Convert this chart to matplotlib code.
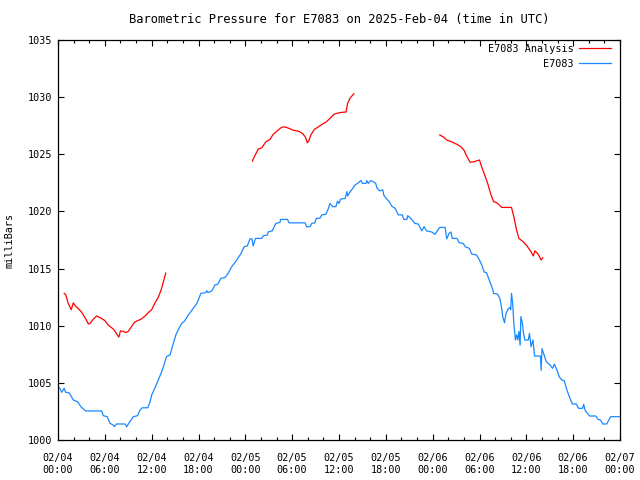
import matplotlib
matplotlib.use('Agg')
import matplotlib.pyplot as plt
import matplotlib.dates as mdates
from datetime import datetime, timedelta

# hours since 2025-02-04 00:00 UTC, pressure in mbar
obs_hours = [0.0, 0.26, 0.47, 0.8, 0.98, 1.4, 1.67, 1.96, 2.5, 2.95, 3.55, 5.6, 5.8, 6.3, 6.66,
             7.1, 7.2, 7.5, 8.6, 8.8, 9.2, 9.65, 10.2, 10.5, 10.8, 11.5, 11.8, 12.0, 12.4, 12.85,
             13.2, 13.5, 13.9, 14.35, 14.65, 15.1, 15.5, 15.85, 16.2, 16.7, 17.8, 18.3, 18.9,
             19.05, 19.2, 19.7, 20.1, 20.5, 20.85, 21.4, 21.8, 22.25, 22.9, 23.45, 23.85, 24.25,
             24.6, 24.85, 25.0, 25.3, 26.1, 26.3, 26.8, 26.95, 27.45, 27.9, 28.45, 28.5, 29.4,
             29.6, 31.65, 31.85, 32.3, 32.5, 32.9, 33.1, 33.55, 33.8, 34.3, 34.6, 34.85, 35.2,
             35.6, 35.8, 36.0, 36.2, 36.8, 37.0, 37.1, 37.3, 37.6, 38.05, 38.5, 38.8, 39.0, 39.45,
             39.55, 39.75, 40.05, 40.4, 40.7, 40.9, 41.25, 41.6, 41.75, 42.1, 42.45, 42.75, 43.2,
             43.6, 44.1, 44.3, 44.7, 44.8, 45.1, 45.4, 45.7, 46.15, 46.6, 46.9, 47.2, 47.9, 48.3,
             48.9, 49.6, 49.8, 50.1, 50.35, 50.5, 51.1, 51.4, 51.9, 52.2, 52.7, 53.0, 53.6, 54.0,
             54.3, 54.6, 54.9, 55.25, 55.65, 55.8, 56.3, 56.6, 56.85, 56.97, 57.2, 57.4, 57.7,
             57.9, 58.0, 58.1, 58.25, 58.4, 58.6, 58.75, 58.9, 59.05, 59.2, 59.3, 59.5, 59.6,
             59.8, 60.25, 60.4, 60.6, 60.85, 61.05, 61.8, 61.9, 62.0, 62.2, 62.55, 63.05, 63.35,
             63.6, 64.0, 64.2, 64.55, 64.85, 65.2, 65.5, 65.9, 66.4, 66.7, 67.2, 67.35, 67.55,
             68.1, 68.9, 69.2, 69.5, 69.8, 70.3, 70.8, 72.0]
obs_mbar = [1004.6, 1004.52, 1004.17, 1004.52, 1004.17, 1004.14, 1003.85, 1003.5, 1003.35,
            1002.9, 1002.54, 1002.54, 1002.13, 1002.04, 1001.46, 1001.3, 1001.16, 1001.4,
            1001.4, 1001.16, 1001.6, 1002.04, 1002.13, 1002.62, 1002.82, 1002.82, 1003.35,
            1003.94, 1004.52, 1005.25, 1005.83, 1006.4, 1007.3, 1007.44, 1008.17, 1009.2,
            1009.77, 1010.2, 1010.4, 1010.94, 1011.96, 1012.83, 1012.89, 1013.06, 1012.9,
            1013.04, 1013.56, 1013.65, 1014.14, 1014.22, 1014.58, 1015.16, 1015.75, 1016.33,
            1016.91, 1016.97, 1017.6, 1017.6, 1016.97, 1017.64, 1017.64, 1017.87, 1017.93,
            1018.22, 1018.3, 1018.95, 1019.04, 1019.3, 1019.3, 1019.0, 1019.0, 1018.66,
            1018.66, 1018.95, 1019.0, 1019.4, 1019.4, 1019.7, 1019.75, 1020.18, 1020.7,
            1020.42, 1020.42, 1020.9, 1020.7, 1021.08, 1021.14, 1021.73, 1021.35, 1021.6,
            1021.87, 1022.3, 1022.52, 1022.7, 1022.45, 1022.45, 1022.7, 1022.45, 1022.7,
            1022.6, 1022.45, 1022.0, 1021.8, 1021.9, 1021.4, 1021.1, 1020.85, 1020.47,
            1020.26, 1019.7, 1019.7, 1019.3, 1019.3, 1019.63, 1019.45, 1019.25, 1018.95,
            1018.9, 1018.3, 1018.67, 1018.3, 1018.2, 1018.0, 1018.6, 1018.6, 1017.6, 1018.07,
            1018.2, 1017.64, 1017.64, 1017.26, 1017.2, 1016.9, 1016.77, 1016.27, 1016.2,
            1015.75, 1015.3, 1014.7, 1014.63, 1014.0, 1013.27, 1012.83, 1012.77, 1012.4,
            1011.5, 1010.8, 1010.26, 1011.08, 1011.5, 1011.6, 1011.4, 1012.83, 1011.96,
            1010.2, 1008.75, 1009.2, 1008.75, 1009.5, 1008.3, 1010.8, 1010.2, 1009.5,
            1008.75, 1008.75, 1009.33, 1008.16, 1008.75, 1007.35, 1007.35, 1006.1, 1008.0,
            1007.6, 1006.85, 1006.56, 1006.27, 1006.64, 1005.98, 1005.54, 1005.25, 1005.2,
            1004.37, 1003.8, 1003.15, 1003.15, 1002.77, 1002.77, 1003.12, 1002.57, 1002.1,
            1002.1, 1001.8, 1001.75, 1001.4, 1001.4, 1002.04, 1002.04]

# analysis comes in three separate runs
ana1_hours = [0.8, 1.0, 1.3, 1.5, 1.7, 1.96, 2.26, 2.6, 3.0, 3.46, 3.9, 4.1, 4.5, 4.95, 5.4, 6.0,
              6.45, 7.1, 7.5, 7.8, 8.0, 8.4, 8.7, 9.0, 9.4, 9.8, 10.2, 10.6, 11.15, 11.65, 12.0,
              12.4, 12.85, 13.2, 13.5, 13.8]
ana1_mbar = [1012.83, 1012.7, 1011.96, 1011.7, 1011.4, 1012.0, 1011.7, 1011.5, 1011.2, 1010.7,
             1010.15, 1010.2, 1010.55, 1010.85, 1010.7, 1010.45, 1010.05, 1009.7, 1009.3,
             1009.0, 1009.55, 1009.5, 1009.4, 1009.5, 1009.9, 1010.3, 1010.45, 1010.55,
             1010.85, 1011.2, 1011.4, 1011.96, 1012.5, 1013.1, 1013.85, 1014.6]
ana2_hours = [24.9, 25.2, 25.66, 26.1, 26.65, 27.15, 27.6, 28.1, 28.65, 29.0, 29.6, 30.15, 30.9,
              31.35, 31.7, 31.95, 32.15, 32.4, 32.85, 33.35, 33.9, 34.4, 34.85, 35.35, 35.8,
              36.35, 36.9, 37.1, 37.4, 37.9]
ana2_mbar = [1024.4, 1024.85, 1025.46, 1025.57, 1026.1, 1026.3, 1026.77, 1027.06, 1027.36,
             1027.4, 1027.27, 1027.1, 1027.0, 1026.8, 1026.5, 1026.0, 1026.2, 1026.7, 1027.18,
             1027.4, 1027.65, 1027.85, 1028.14, 1028.5, 1028.6, 1028.67, 1028.7, 1029.45,
             1029.9, 1030.3]
ana3_hours = [48.9, 49.4, 49.8, 50.4, 51.1, 51.6, 52.0, 52.35, 52.8, 53.3, 54.0, 54.2, 54.6,
              55.05, 55.4, 55.8, 56.2, 56.85, 58.1, 58.4, 58.75, 59.05, 59.6, 60.1, 60.6, 60.9,
              61.1, 61.5, 61.9, 62.1]
ana3_mbar = [1026.7, 1026.5, 1026.25, 1026.1, 1025.87, 1025.67, 1025.37, 1024.85, 1024.3,
             1024.35, 1024.5, 1024.06, 1023.3, 1022.45, 1021.6, 1020.85, 1020.77, 1020.35,
             1020.35, 1019.54, 1018.37, 1017.64, 1017.35, 1016.97, 1016.47, 1016.1, 1016.56,
             1016.27, 1015.75, 1015.95]

start = datetime(2025, 2, 4, 0, 0)


def to_dates(hours):
    return [start + timedelta(hours=h) for h in hours]


plt.rcParams['font.family'] = 'DejaVu Sans Mono'
plt.rcParams['font.size'] = 7.3

fig = plt.figure(figsize=(6.4, 4.8), dpi=100)
ax = fig.add_axes([58 / 640, 40 / 480, 562 / 640, 400 / 480])

red = '#ff0000'
blue = '#1a88ff'
ax.plot(to_dates(ana1_hours), ana1_mbar, color=red, lw=0.9, label='E7083 Analysis')
ax.plot(to_dates(ana2_hours), ana2_mbar, color=red, lw=0.9)
ax.plot(to_dates(ana3_hours), ana3_mbar, color=red, lw=0.9)
ax.plot(to_dates(obs_hours), obs_mbar, color=blue, lw=0.9, label='E7083')

ax.set_xlim(start, start + timedelta(hours=72))
ax.set_ylim(1000, 1035)
ax.set_yticks(range(1000, 1036, 5))
ax.xaxis.set_major_locator(mdates.HourLocator(byhour=range(0, 24, 6)))
ax.xaxis.set_minor_locator(mdates.HourLocator(byhour=range(0, 24, 2)))
ax.xaxis.set_major_formatter(mdates.DateFormatter('%m/%d\n%H:%M'))

ax.tick_params(which='both', direction='in', top=True, right=True, width=0.8)
ax.tick_params(which='major', length=4.5)
ax.tick_params(which='minor', length=2.5)
ax.tick_params(axis='x', which='major', pad=9)
ax.tick_params(axis='y', which='major', pad=4)
for lbl in ax.get_xticklabels():
    lbl.set_linespacing(1.35)
for s in ax.spines.values():
    s.set_linewidth(0.9)

ax.set_ylabel('milliBars', labelpad=10)
ax.set_title('Barometric Pressure for E7083 on 2025-Feb-04 (time in UTC)', pad=12)

ax.legend(loc='upper right', bbox_to_anchor=(0.984, 0.99), frameon=False,
          markerfirst=False, handlelength=3.2, labelspacing=0.45, borderaxespad=0,
          handletextpad=0.5, borderpad=0)

plt.savefig('out.png', dpi=100)
